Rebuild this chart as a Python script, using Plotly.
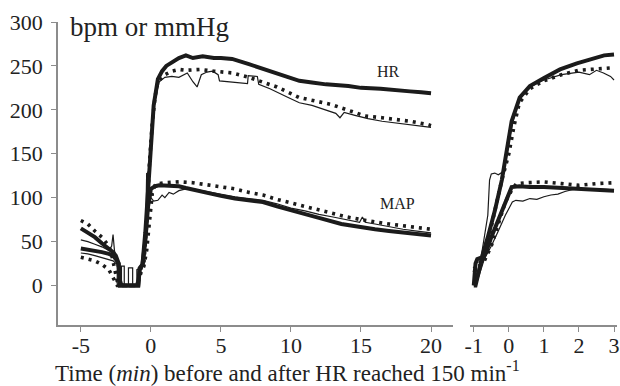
import plotly.graph_objects as go

# ---------------- data ----------------
# Left panel: time in minutes relative to HR reaching 150 min^-1
hr_thick_t = [-5, -4.5, -4, -3.5, -3, -2.7, -2.5, -2.3, -2.2, -1.5, -0.9, -0.8, -0.6, -0.4, -0.2, 0.0, 0.2, 0.5,
              0.8, 1.1, 1.5, 2.0, 2.5, 3.0, 3.7, 4.5, 5.0, 5.8, 7, 8.2, 9, 10.6, 11.5, 12.5, 14.1, 15, 16.4, 17.5, 18.5, 19.3, 20]
hr_thick_v = [65, 60, 55, 48, 42, 38, 34, 25, 0, 0, 0, 18, 24, 60, 110, 160, 205, 235,
              244, 250, 254, 259, 262, 259, 261, 259, 259, 258, 252, 246, 242, 233, 231, 229, 227, 225, 224, 222, 221, 220, 219]

hr_dot_t = [-5, -4.5, -4, -3.5, -3, -2.8, -2.6, -2.4, -2.0, -1.5, -1.0, -0.7, -0.5, -0.3, -0.1, 0.1, 0.3, 0.5,
            1.0, 1.5, 2.0, 2.5, 3.5, 4.5, 5.8, 7, 8.2, 9, 10.6, 11.5, 12.9, 14, 15.3, 16.5, 17.6, 18.5, 19.8, 20]
hr_dot_v = [74, 70, 62, 55, 45, 35, 20, 5, 0, 0, 0, 20, 25, 70, 140, 185, 215, 232,
            240, 244, 246, 245, 246, 244, 242, 237, 231, 226, 214, 211, 206, 200, 193, 191, 189, 187, 183, 182]

hr_thin_t = [-5, -4.5, -4, -3.5, -3, -2.8, -2.7, -2.6, -2.4, -2.0, -1.5, -1.0, -0.7, -0.5, -0.4, -0.3, -0.1, 0.1,
             0.3, 0.6, 1.0, 1.5, 2.0, 2.6, 3.0, 3.3, 3.6, 4.0, 4.4, 4.8, 4.9, 5.5, 6.5, 6.9, 6.95, 7.6, 7.7,
             8.5, 9.8, 10.6, 11.5, 12.5, 13.2, 13.5, 13.8, 14.5, 15.5, 16.5, 17.5, 18.5, 19.5, 20]
hr_thin_v = [52, 50, 47, 44, 40, 45, 58, 40, 22, 0, 0, 0, 20, 25, 40, 70, 135, 180,
             212, 232, 237, 238, 237, 242, 232, 226, 240, 243, 244, 240, 233, 232, 230, 230, 239, 238, 229,
             224, 214, 208, 205, 200, 196, 191, 197, 194, 190, 187, 185, 183, 181, 180]

map_thick_t = [-5, -4.5, -4, -3.5, -3, -2.7, -2.5, -2.3, -2.2, -1.5, -0.9, -0.8, -0.6, -0.4, -0.2, 0.0, 0.3, 0.6,
               1.0, 1.5, 2.0, 2.5, 3, 4, 5, 6, 7, 8, 9, 10, 10.6, 12, 13.6, 15, 16, 17, 18, 19, 20]
map_thick_v = [42, 41, 40, 38, 36, 34, 30, 25, 0, 0, 0, 20, 24, 50, 90, 110, 113, 114,
               114, 114, 113, 111, 109, 106, 102, 99, 97, 95, 90, 86, 83, 77, 70, 66, 64, 62, 60, 58, 57]

map_dot_t = [-5, -4.5, -4, -3.5, -3, -2.8, -2.6, -2.4, -2.0, -1.5, -1.0, -0.7, -0.5, -0.3, -0.1, 0.1, 0.3, 0.6,
             1.0, 2.0, 3, 4, 5, 6, 7, 8, 9, 10, 11, 12, 13, 14, 15, 16, 17, 18, 19, 20]
map_dot_v = [32, 30, 28, 24, 18, 12, 5, 0, 0, 0, 0, 15, 22, 40, 75, 105, 114, 116,
             117, 118, 117, 115, 113, 110, 106, 103, 98, 94, 89, 86, 82, 78, 75, 72, 70, 68, 66, 64]

map_thin_t = [-5, -4.5, -4, -3.5, -3, -2.7, -2.5, -2.4, -2.4, -2.1, -2.1, -1.9, -1.9, -1.6, -1.6, -1.3, -1.3,
              -1.0, -1.0, -0.7, -0.5, -0.4, -0.3, -0.2, 0.0, 0.2, 0.5, 0.8, 1.0, 1.3, 1.6, 2.0, 2.5, 3, 4, 5,
              6, 7, 8, 9, 10, 11, 12, 13, 14, 14.9, 15.1, 15.3, 16, 17, 18, 19, 20]
map_thin_v = [37, 36, 34, 32, 30, 28, 25, 25, 0, 0, 22, 22, 0, 0, 20, 20, 0,
              0, 18, 20, 24, 40, 128, 125, 100, 96, 97, 103, 100, 106, 104, 108, 110, 110, 107, 104,
              101, 99, 97, 93, 88, 85, 81, 78, 75, 72, 78, 72, 70, 67, 64, 62, 60]

# Right panel (zoomed around t = 0)
r_hr_thick_t = [-1.0, -0.95, -0.9, -0.77, -0.6, -0.4, -0.2, -0.06, 0.08, 0.31, 0.6, 0.99, 1.46, 1.94, 2.43, 2.72, 3.0]
r_hr_thick_v = [0, 25, 30, 32, 55, 85, 120, 153, 187, 214, 227, 236, 246, 253, 258, 262, 263]

r_hr_dot_t = [-1.0, -0.9, -0.75, -0.6, -0.4, -0.2, 0.0, 0.15, 0.3, 0.6, 1.0, 1.5, 2.0, 2.5, 3.0]
r_hr_dot_v = [19, 22, 30, 50, 85, 120, 150, 182, 208, 224, 233, 240, 245, 247, 248]

r_hr_thin_t = [-1.0, -0.9, -0.8, -0.6, -0.55, -0.5, -0.4, -0.3, -0.15, -0.05, 0.1, 0.3, 0.6, 1.0, 1.5,
               2.0, 2.3, 2.5, 2.7, 2.9, 3.0]
r_hr_thin_v = [5, 15, 30, 80, 120, 127, 128, 126, 130, 150, 185, 212, 226, 234, 240,
               243, 240, 245, 242, 238, 234]

r_map_thick_t = [-1.0, -0.95, -0.8, -0.63, -0.5, -0.3, -0.1, 0.08, 0.3, 0.6, 1.0, 1.5, 2.0, 2.5, 3.0]
r_map_thick_v = [0, 0, 25, 40, 55, 75, 95, 112, 113, 112, 112, 111, 111, 110, 108]

r_map_dot_t = [-1.0, -0.9, -0.7, -0.5, -0.3, -0.1, 0.1, 0.22, 0.5, 1.0, 1.5, 2.0, 2.5, 3.0]
r_map_dot_v = [15, 20, 28, 45, 70, 95, 110, 116, 117, 118, 116, 114, 116, 117]

r_map_thin_t = [-1.0, -0.9, -0.7, -0.5, -0.3, -0.1, 0.1, 0.2, 0.4, 0.6, 0.8, 1.0, 1.2, 1.4, 1.6, 1.8,
                2.0, 2.5, 3.0]
r_map_thin_v = [0, 5, 30, 45, 62, 80, 95, 97, 96, 99, 98, 101, 103, 104, 107, 109,
                110, 110, 109]

left_ticks = [-5, 0, 5, 10, 15, 20]
left_ticktext = ["-5", "0", "5", "10", "15", "20"]
right_ticks = [-1, 0, 1, 2, 3]
right_ticktext = ["-1", "0", "1", "2", "3"]
y_ticks = [0, 50, 100, 150, 200, 250, 300]

# ---------------- figure ----------------
INK = "#1b1b1b"
AX = "#8c8c8c"
FONT = "Liberation Serif, Times New Roman, serif"

STYLES = {
    "thin": dict(color=INK, width=1.2),
    "dot": dict(color=INK, width=3.6, dash="3px,5px"),
    "thick": dict(color=INK, width=4.0),
}

fig = go.Figure()


def add(t, v, style, xa):
    fig.add_trace(go.Scatter(x=t, y=v, mode="lines", line=STYLES[style], xaxis=xa, yaxis="y",
                             showlegend=False, hoverinfo="skip"))


for xa, series in (
    ("x", [(hr_thin_t, hr_thin_v, "thin"), (map_thin_t, map_thin_v, "thin"),
           (hr_dot_t, hr_dot_v, "dot"), (map_dot_t, map_dot_v, "dot"),
           (hr_thick_t, hr_thick_v, "thick"), (map_thick_t, map_thick_v, "thick")]),
    ("x2", [(r_hr_thin_t, r_hr_thin_v, "thin"), (r_map_thin_t, r_map_thin_v, "thin"),
            (r_hr_dot_t, r_hr_dot_v, "dot"), (r_map_dot_t, r_map_dot_v, "dot"),
            (r_hr_thick_t, r_hr_thick_v, "thick"), (r_map_thick_t, r_map_thick_v, "thick")]),
):
    for t, v, s in series:
        add(t, v, s, xa)

axis_common = dict(showline=True, linecolor=AX, linewidth=1.5, ticks="outside", ticklen=5,
                   tickcolor=AX, tickwidth=1.2, showgrid=False, zeroline=False,
                   ticklabeloverflow="allow",
                   tickfont=dict(family=FONT, size=22, color="#222"))

fig.update_layout(
    width=620, height=386,
    margin=dict(l=58, r=0, t=22, b=61),
    paper_bgcolor="white", plot_bgcolor="white",
    font=dict(family=FONT, color="#222", size=20),
    xaxis=dict(domain=[0, 0.7064], range=[-6.63, 21.56], tickvals=left_ticks, ticktext=left_ticktext,
               anchor="y", ticklabelstandoff=-5, **axis_common),
    xaxis2=dict(domain=[0.7367, 1], range=[-1.113, 3.085], tickvals=right_ticks, ticktext=right_ticktext,
                anchor="y", ticklabelstandoff=-5, **axis_common),
    yaxis=dict(range=[-45, 300], tickvals=y_ticks, anchor="x", ticklabelstandoff=4, **axis_common),
    annotations=[
        dict(text="bpm or mmHg", xref="paper", yref="paper", x=0.0178, y=0.983, xanchor="left",
             yanchor="middle", showarrow=False, font=dict(family=FONT, size=27, color="#222")),
        dict(text="HR", xref="x", yref="y", x=16.95, y=244, showarrow=False,
             font=dict(family=FONT, size=16, color="#222")),
        dict(text="MAP", xref="x", yref="y", x=17.6, y=93, showarrow=False,
             font=dict(family=FONT, size=16, color="#222")),
        dict(text="Time (<i>min</i>) before and after HR reached 150 min<sup>-1</sup>",
             xref="paper", yref="paper", x=0.411, y=-0.155, xanchor="center", yanchor="middle",
             showarrow=False, font=dict(family=FONT, size=23, color="#222")),
    ],
)

fig.write_html("out.html", config={"displayModeBar": False},
               post_script="document.body.style.margin='0';")
